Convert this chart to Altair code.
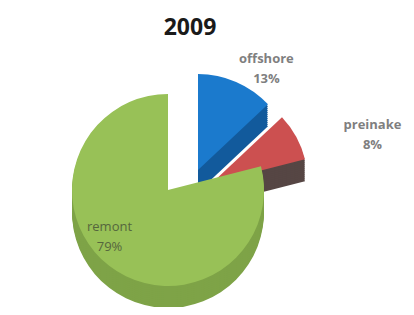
import altair as alt
import pandas as pd

categories = ["offshore", "preinake", "remont"]
values = [13, 8, 79]
labels = ["13%", "8%", "79%"]
top_colors = ["#1b7acd", "#cc5050", "#98c157"]
side_colors = ["#125a9c", "#564644", "#7ea347"]
title_text = "2009"

df = pd.DataFrame({
    "cat": categories,
    "value": values,
    "pct": labels,
    "idx": list(range(len(categories))),
})

W, H = 398, 299
CX, CY = 164, 180
R = 96
DEPTH = 22
explode = {"offshore": (26, -18), "preinake": (40, -5), "remont": (-4, 2)}
top_col = dict(zip(categories, top_colors))
side_col = dict(zip(categories, side_colors))

base = alt.Chart(df).transform_window(
    cum="sum(value)", sort=[alt.SortField("idx")]
).transform_calculate(
    start="datum.cum - datum.value"
)

theta_scale = alt.Scale(domain=[0, 100], range=[0, 6.283185307])

layers = []
# sides (3D depth)
for d in range(DEPTH, 0, -2):
    for c in categories:
        dx, dy = explode[c]
        layers.append(
            base.transform_filter(alt.datum.cat == c).mark_arc(
                radius=R, xOffset=dx, yOffset=dy + d, color=side_col[c]
            ).encode(
                theta=alt.Theta("start:Q", scale=theta_scale),
                theta2="cum:Q",
                x=alt.value(CX), y=alt.value(CY),
            )
        )
# tops
for c in categories:
    dx, dy = explode[c]
    layers.append(
        base.transform_filter(alt.datum.cat == c).mark_arc(
            radius=R, xOffset=dx, yOffset=dy, color=top_col[c]
        ).encode(
            theta=alt.Theta("start:Q", scale=theta_scale),
            theta2="cum:Q",
            x=alt.value(CX), y=alt.value(CY),
        )
    )

# labels
label_cfg = {
    "offshore": dict(radius=R + 36, color="#7f7f7f", fw="bold", ex=16, ey=10),
    "preinake": dict(radius=R + 62, color="#7f7f7f", fw="bold", ex=22, ey=18),
    "remont": dict(radius=R * 0.62, color="#55663d", fw="normal", ex=-22, ey=-10),
}
for c in categories:
    dx, dy = explode[c]
    cfg = label_cfg[c]
    t = base.transform_filter(alt.datum.cat == c).transform_calculate(
        mid="(datum.start + datum.cum) / 2",
        lab="[datum.cat, datum.pct]",
    )
    layers.append(
        t.mark_text(
            radius=cfg["radius"], xOffset=dx + cfg["ex"], yOffset=dy + cfg["ey"], fontSize=13,
            fontWeight=cfg["fw"], font="Open Sans", color=cfg["color"],
            lineHeight=20, align="center", baseline="middle",
        ).encode(
            theta=alt.Theta("mid:Q", scale=theta_scale),
            text="lab:N",
            x=alt.value(CX), y=alt.value(CY),
        )
    )

title = alt.Chart(pd.DataFrame({"t": [title_text]})).mark_text(
    fontSize=23, fontWeight="bold", font="Open Sans", color="#1a1a1a",
    align="center", baseline="middle",
).encode(text="t:N", x=alt.value(182), y=alt.value(20))
layers.append(title)

chart = alt.layer(*layers).properties(
    width=W, height=H,
    autosize=alt.AutoSizeParams(type="fit", contains="padding"),
    padding=0,
    background="white",
).configure_view(stroke=None)

chart.save("out.html", embed_options={"renderer": "svg", "actions": False})
